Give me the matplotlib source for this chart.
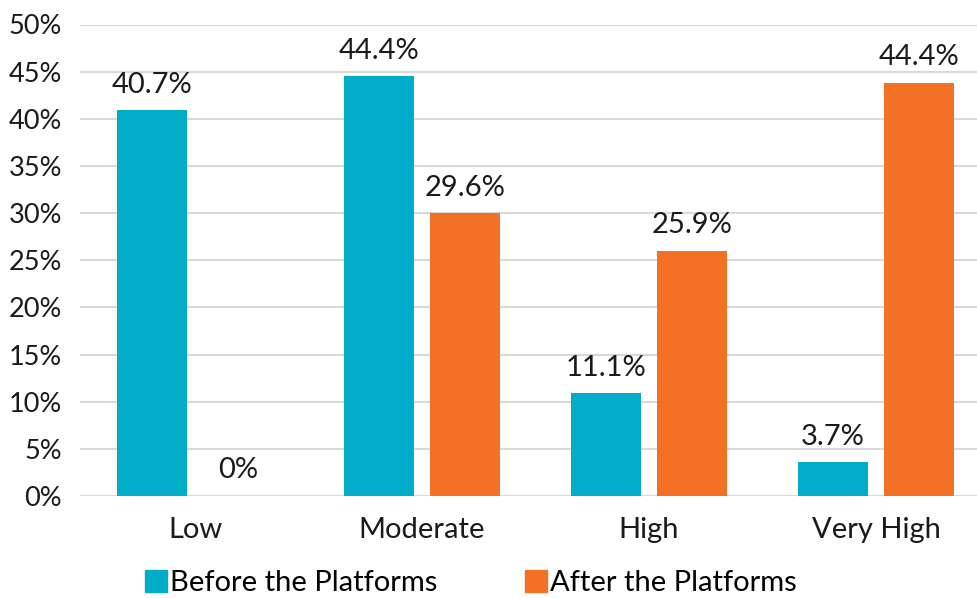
import matplotlib.pyplot as plt
from matplotlib.patches import Patch
import numpy as np

# data
categories = ['Low', 'Moderate', 'High', 'Very High']
before = [40.9, 44.5, 10.9, 3.6]
after = [0.0, 30.0, 26.0, 43.8]
before_labels = ['40.7%', '44.4%', '11.1%', '3.7%']
after_labels = ['0%', '29.6%', '25.9%', '44.4%']
series_names = ['Before the Platforms', 'After the Platforms']

teal = '#00ACC8'
orange = '#F27124'

plt.rcParams['font.family'] = ['Lato', 'DejaVu Sans']
plt.rcParams['font.size'] = 21

fig = plt.figure(figsize=(9.77, 5.98), dpi=100)
ax = fig.add_axes([80 / 977, 1 - 496 / 598, 1 - 80 / 977, (496 - 24.5) / 598])

x = np.arange(len(categories))
width = 0.31
gap = 0.035

b1 = ax.bar(x - width / 2 - gap, before, width=width, color=teal, zorder=3)
b2 = ax.bar(x + width / 2 + gap, after, width=width, color=orange, zorder=3)

# etiquettes de valeurs
for rect, lab in zip(b1, before_labels):
    ax.annotate(lab, (rect.get_x() + rect.get_width() / 2, rect.get_height()),
                xytext=(0, 9), textcoords='offset points', ha='center', va='bottom',
                color='#1a1a1a')
for rect, lab in zip(b2, after_labels):
    ax.annotate(lab, (rect.get_x() + rect.get_width() / 2, rect.get_height()),
                xytext=(0, 9), textcoords='offset points', ha='center', va='bottom',
                color='#1a1a1a')

ax.set_ylim(0, 50)
ax.set_xlim(-0.507, 3.445)
ax.set_yticks(np.arange(0, 51, 5))
ax.set_yticklabels([f'{v}%' for v in range(0, 51, 5)], fontsize=19.5)
ax.set_xticks(x)
ax.set_xticklabels(categories)

ax.grid(axis='y', color='#D9D9D9', linewidth=1.5, zorder=0)
for s in ax.spines.values():
    s.set_visible(False)
ax.tick_params(axis='both', length=0, colors='#1a1a1a')
ax.tick_params(axis='x', pad=15)
ax.tick_params(axis='y', pad=13)

handles = [Patch(color=teal), Patch(color=orange)]
fig.legend(handles, series_names, loc='center', bbox_to_anchor=(0.482, 1 - 583 / 598),
           ncol=2, frameon=False, handlelength=0.75, handleheight=0.75,
           handletextpad=0.1, columnspacing=3.0, borderaxespad=0)

fig.savefig('out.png', dpi=100)
